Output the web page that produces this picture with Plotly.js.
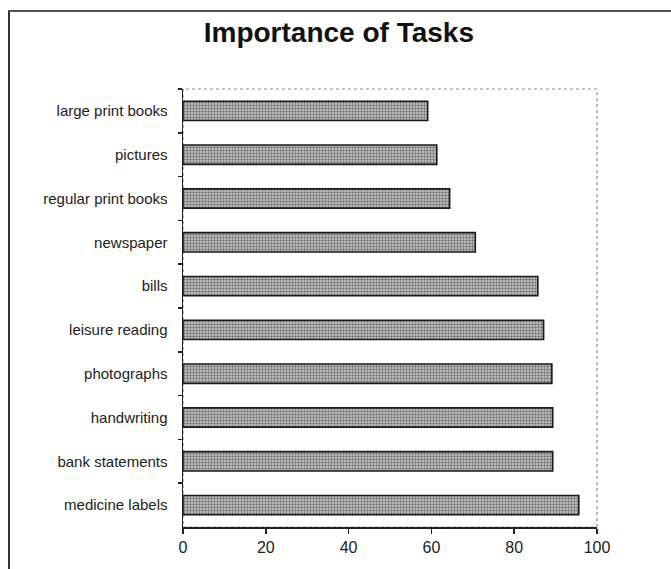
<!DOCTYPE html>
<html>
<head>
<meta charset="utf-8">
<script src="https://cdn.plot.ly/plotly-3.0.1.min.js"></script>
<style>
html,body{margin:0;padding:0;background:#fff;}
#wrap{position:relative;width:671px;height:569px;}
#chart{width:671px;height:569px;}
#frame{position:absolute;left:8px;top:10px;width:700px;height:600px;border-left:2px solid #333;border-top:2px solid #555;pointer-events:none;}
</style>
</head>
<body>
<div id="wrap">
<div id="chart"></div>
<div id="frame"></div>
</div>
<script>
const tasks = ["large print books","pictures","regular print books","newspaper","bills","leisure reading","photographs","handwriting","bank statements","medicine labels"];
const importance = [59.1, 61.3, 64.4, 70.6, 85.7, 87.1, 89.1, 89.3, 89.3, 95.6];
const xTicks = [0, 20, 40, 60, 80, 100];

const trace = {
  type: 'bar',
  orientation: 'h',
  y: tasks,
  x: importance,
  marker: {
    color: '#b0b0b0',
    line: {color: '#1a1a1a', width: 1.6},
    pattern: {shape: '.', fgcolor: '#666', bgcolor: '#bcbcbc', size: 3, solidity: 0.4}
  },
  hoverinfo: 'none'
};

const layout = {
  width: 671, height: 569,
  margin: {l: 183, r: 74, t: 89, b: 42},
  paper_bgcolor: '#fff', plot_bgcolor: '#fff',
  showlegend: false,
  bargap: 0.56,
  title: {text: '<b>Importance of Tasks</b>', x: 0.505, xanchor: 'center', y: 0.943, yanchor: 'middle',
          font: {family: 'Liberation Sans, Arial, sans-serif', size: 28, color: '#111'}},
  xaxis: {
    range: [0, 100], tickvals: xTicks, ticktext: xTicks.map(String),
    showgrid: false, zeroline: false, showline: true, linecolor: '#222', linewidth: 1.5,
    ticks: 'outside', ticklen: 5, tickcolor: '#222', tickwidth: 1.5,
    tickfont: {family: 'Liberation Sans, Arial, sans-serif', size: 16, color: '#222'}
  },
  yaxis: {
    type: 'category', autorange: 'reversed',
    showgrid: false, zeroline: false, showline: true, linecolor: '#222', linewidth: 1.5,
    ticks: 'outside', tickson: 'boundaries', ticklen: 4, tickcolor: '#222', tickwidth: 1.5,
    ticklabelstandoff: 11,
    tickfont: {family: 'Liberation Sans, Arial, sans-serif', size: 15, color: '#222'}
  },
  shapes: [{type: 'rect', xref: 'paper', yref: 'paper', x0: 0, x1: 1, y0: 0, y1: 1,
            line: {color: '#8a8a8a', width: 1.2, dash: 'dot'}, layer: 'below'}]
};

Plotly.newPlot('chart', [trace], layout, {staticPlot: true, displayModeBar: false});
</script>
</body>
</html>
